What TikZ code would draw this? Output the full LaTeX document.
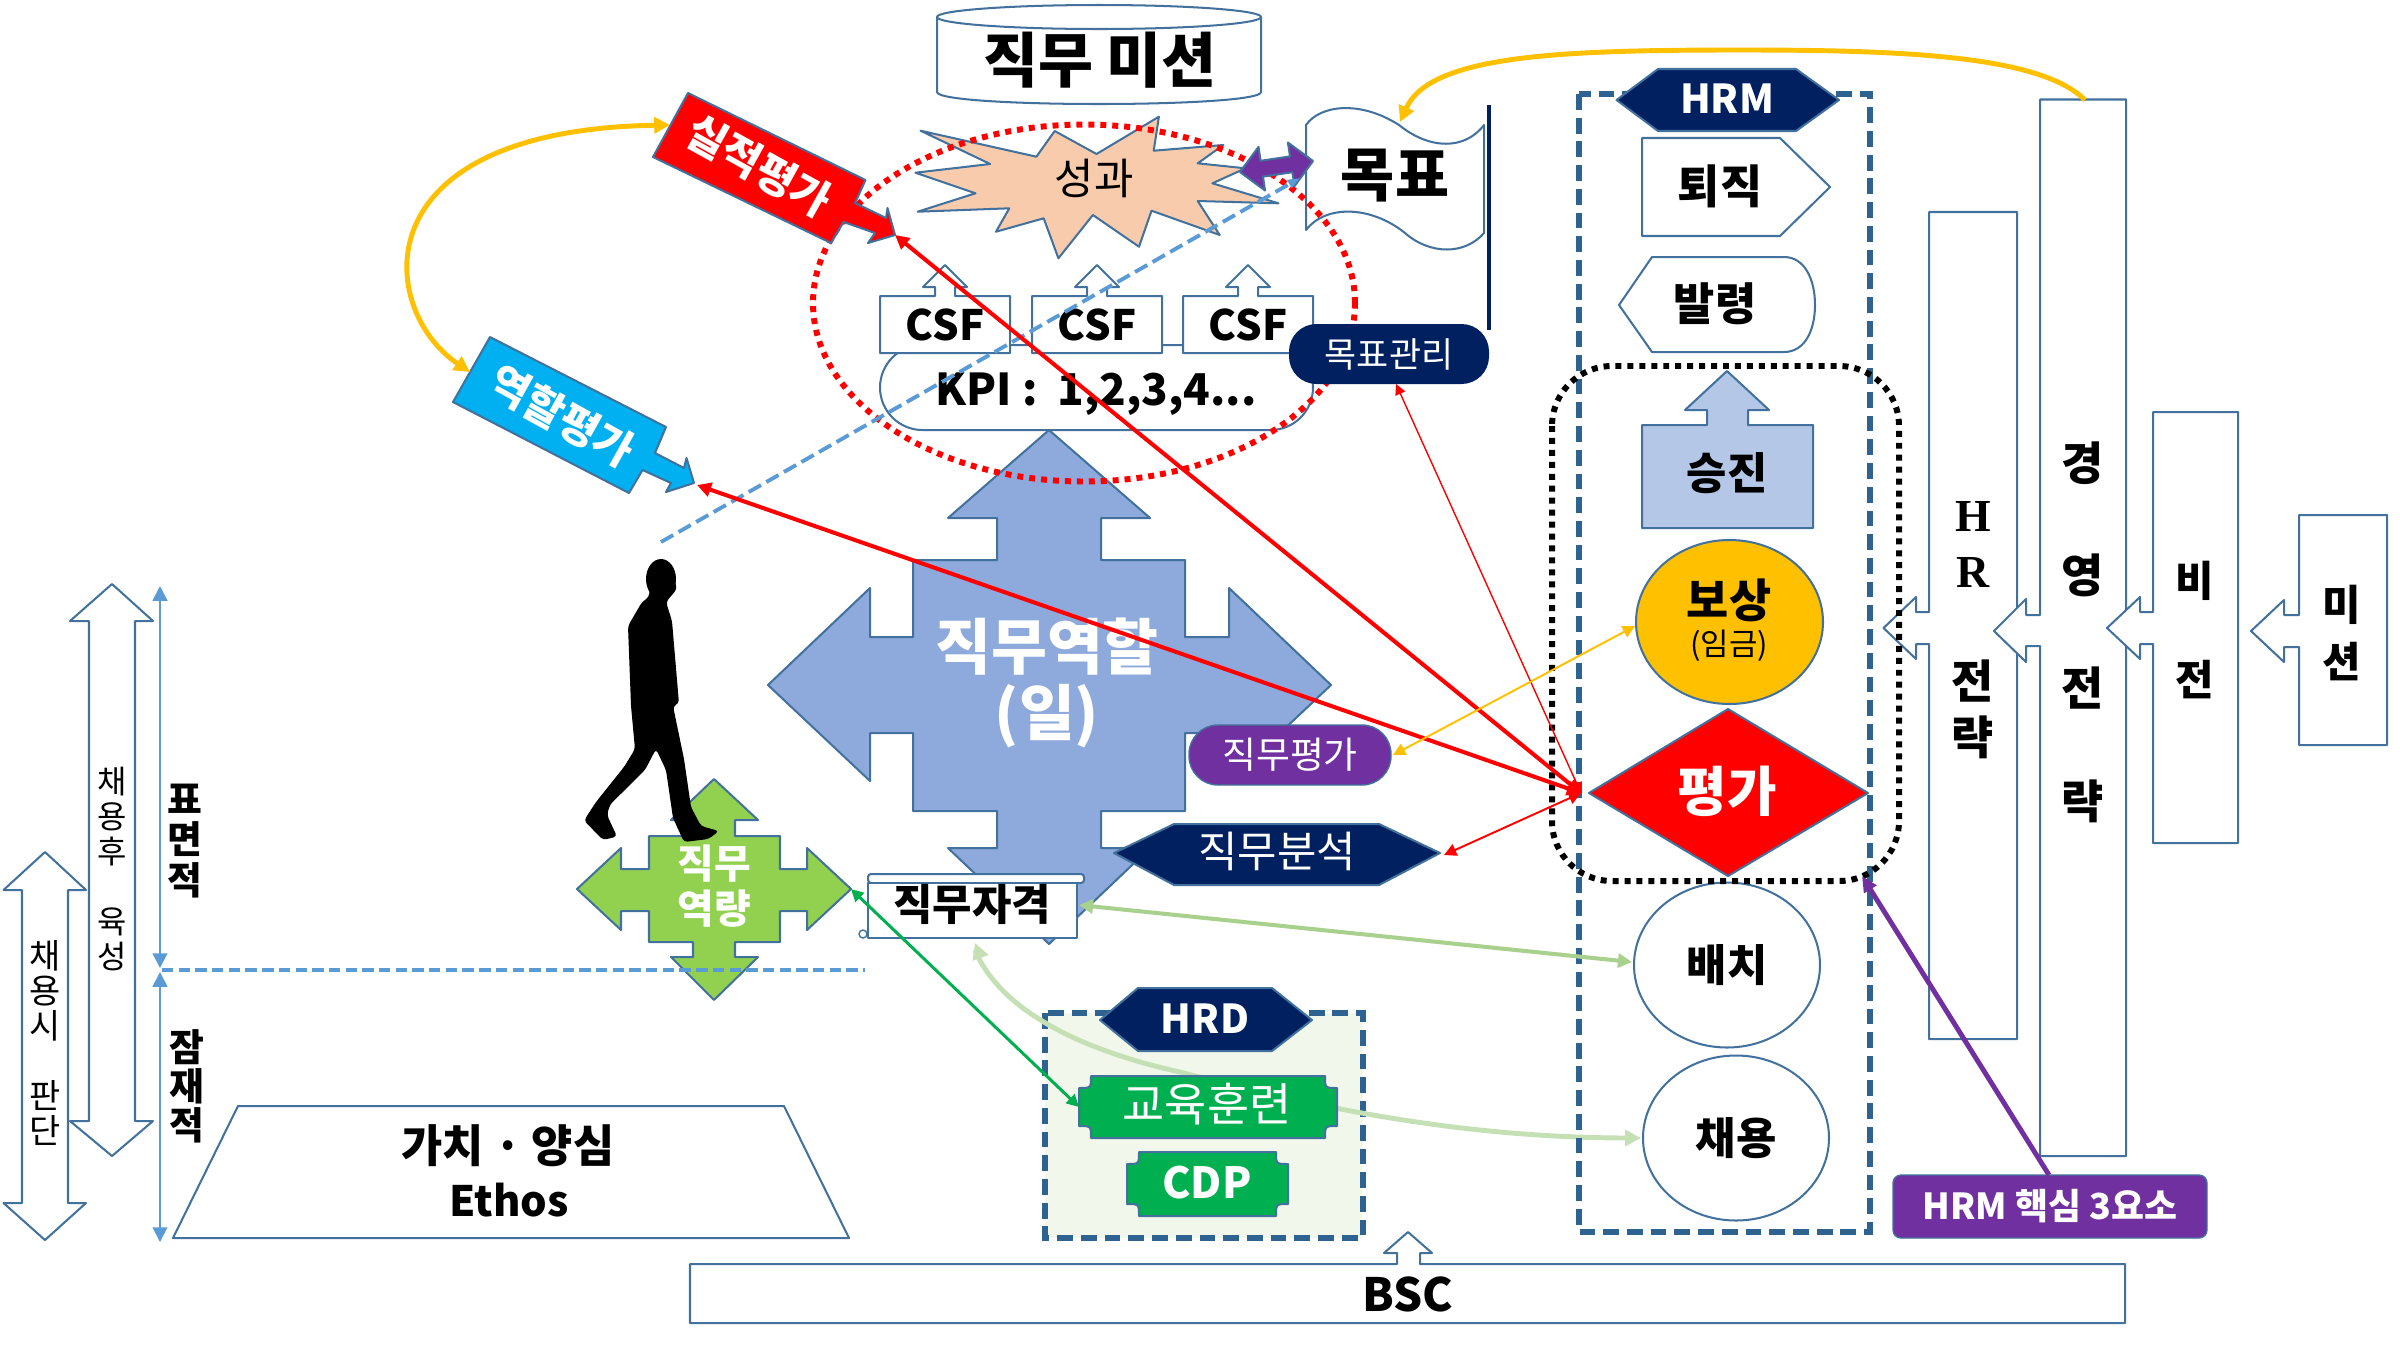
\documentclass[tikz,border=0pt]{standalone}
\usepackage{fontspec}
\setmainfont{Noto Sans CJK KR}
\newfontfamily\latinserif{Liberation Serif}
\usetikzlibrary{arrows.meta,shapes.geometric,shapes.misc}
\definecolor{edge}{HTML}{41719C}
\definecolor{navy}{HTML}{002060}
\definecolor{gold}{HTML}{FFC000}
\definecolor{violet}{HTML}{7030A0}
\definecolor{jobblue}{HTML}{8EA9DB}
\definecolor{leaf}{HTML}{92D050}
\definecolor{grn}{HTML}{00B050}
\definecolor{sky}{HTML}{00B0F0}
\definecolor{peach}{HTML}{F8CBAD}
\definecolor{pale}{HTML}{B4C7E7}
\definecolor{mint}{HTML}{F2F7EC}
\definecolor{dashblue}{HTML}{5B9BD5}
\definecolor{frame}{HTML}{2E6391}
\definecolor{lgreen}{HTML}{A9D18E}
\definecolor{lgreenb}{HTML}{C5E0B4}
\newcommand{\fz}[1]{\pgfmathsetmacro\fzsize{#1*0.567}\pgfmathsetmacro\fzskip{#1*0.567*1.18}\fontsize{\fzsize}{\fzskip}\selectfont}
\newcommand{\fzl}[2]{\pgfmathsetmacro\fzsize{#1*0.567}\pgfmathsetmacro\fzskip{#2*0.567}\fontsize{\fzsize}{\fzskip}\selectfont}
\tikzset{
  bd/.style={draw=edge,line width=1.15pt,line join=round},
  wbox/.style={bd,fill=white},
  txt/.style={inner sep=0pt,align=center,text=black},
  btxt/.style={txt,font=\fz{#1}\bfseries},
  wtxt/.style={txt,text=white,font=\fz{#1}\bfseries},
  wide/.style 2 args={minimum width=#1*0.02cm,minimum height=#2*0.02cm,inner sep=0pt},
  dhead/.style={{Triangle[length=#1,width=#1]}-{Triangle[length=#1,width=#1]}},
  dframe/.style={draw=frame,line width=3pt,dash pattern=on 9pt off 4.5pt},
}
\begin{document}
\begin{tikzpicture}[x=0.02cm,y=-0.02cm]
\useasboundingbox (0,0) rectangle (2400,1350);
\fill[white] (0,0) rectangle (2400,1350);

% big job cross
\draw[bd,fill=jobblue] (1049,430)--(1150,518)--(1101,518)--(1101,560)--(1185,560)--(1185,637)--(1229,637)--(1229,588)--(1331,685)--(1229,781)--(1229,733)--(1185,733)--(1185,811)--(1101,811)--(1101,848)--(1150,848)--(1049,944)--(948,848)--(997,848)--(997,811)--(913,811)--(913,733)--(870,733)--(870,781)--(768,685)--(870,588)--(870,637)--(913,637)--(913,560)--(997,560)--(997,518)--(948,518)--cycle;
\node[txt,text=white,font=\fzl{61}{66}\bfseries] (jobrole) at (1047,683) {직무역할\\(일)};

% KPI
\node[wbox,rectangle,rounded corners=0.85cm,wide={433}{85}] (kpibox) at (1096.5,387.5) {};
% cylinder
\draw[wbox] (937,17) -- (937,92) .. controls (937,108) and (1261,108) .. (1261,92) -- (1261,17);
\draw[wbox] (1099,17) ellipse [x radius=162,y radius=12];
\node[btxt=60] (mission) at (1100,60) {직무 미션};
% star
\draw[bd,fill=peach] (920.5,130.7)--(1036.4,156.7)--(1054.7,131)--(1096.5,154)--(1158.9,116.7)--(1153.7,150.7)--(1223.4,145)--(1197.7,163.3)--(1245.4,168.3)--(1212.4,183.3)--(1278.4,203.3)--(1197.7,201)--(1219.7,235)--(1151.5,210.7)--(1139,246.7)--(1092.9,215)--(1058.4,258.3)--(1043.7,218.3)--(996,231.7)--(1009.3,208.3)--(917.6,211.7)--(975.5,193.3)--(915.4,172.7)--(990.2,164)--cycle;
\node[txt,font=\fz{43}] (perf) at (1094,178) {성과};
% CSF
\foreach \cx/\nm in {945/csfa,1097/csfb,1248/csfc}{
  \draw[wbox] ({\cx-65},353) -- ({\cx-65},296) -- ({\cx-10},296) -- ({\cx-10},287) -- ({\cx-22},287) -- (\cx,265) -- ({\cx+22},287) -- ({\cx+10},287) -- ({\cx+10},296) -- ({\cx+65},296) -- ({\cx+65},353) -- cycle;
  \node[btxt=42] (\nm) at (\cx,325) {CSF};
}
\node[btxt=44] (kpi) at (1096,394) {KPI :~ 1,2,3,4...};
% flag
\draw[navy,line width=2.4pt] (1489,105) -- (1489,330);
\draw[wbox] (1306,125) .. controls (1320,105) and (1360,100) .. (1399,125) .. controls (1430,150) and (1465,150) .. (1484,125) -- (1484,233) .. controls (1465,255) and (1430,255) .. (1405,233) .. controls (1370,205) and (1325,205) .. (1306,230) -- cycle;
\node[btxt=59] (goal) at (1395,176) {목표};
% ring
\node[shape=ellipse,draw=red,line width=3.4pt,dash pattern=on 3.4pt off 3.4pt,minimum width=542*0.02cm,minimum height=357*0.02cm,inner sep=0pt] (ring) at (1084,303) {};
% goal mgmt
\node[fill=navy,rectangle,rounded corners=0.55cm,wide={200}{60},text=white,font=\fz{35}] (goalmgmt) at (1389,354) {목표관리};
% purple double arrow
\draw[bd,fill=violet] (1240,172)--(1258.5,146.9)--(1260.6,160.8)--(1290,156.4)--(1287.9,142.5)--(1313,161)--(1294.5,186.1)--(1292.4,172.2)--(1263,176.6)--(1265,190.5)--cycle;

% evaluation callouts
\draw[bd,fill=red] (688,93)--(865.5,180)--(855,203)--(886,218)--(887.5,208)--(895,235)--(868,243)--(875,233)--(843.5,222)--(831,243)--(653,157)--cycle;
\node[txt,text=white,font=\fz{43}\bfseries,rotate=-29] (perfeval) at (759,166) {실적평가};
\draw[bd,fill=sky] (490,337)--(666,427)--(655,453)--(684,468)--(686.5,458)--(694,483)--(666,492)--(671,483)--(642.5,470)--(629,493)--(453,402)--cycle;
\node[txt,text=white,font=\fz{43}\bfseries,rotate=-29] (roleeval) at (562,416) {역할평가};

% left arrows
\draw[wbox] (112,584)--(153,621)--(135,621)--(135,1121)--(153,1121)--(112,1156)--(70,1121)--(89,1121)--(89,621)--(70,621)--cycle;
\node[txt,font=\fzl{32}{35}] (after) at (112,869) {채\\용\\후\\~\\육\\성};
\draw[wbox] (45,852)--(86,890)--(68,890)--(68,1203)--(86,1203)--(45,1240)--(3.5,1203)--(22,1203)--(22,890)--(3.5,890)--cycle;
\node[txt,font=\fzl{34}{35}] (hiring) at (45,1043) {채\\용\\시\\~\\판\\단};
\coordinate (vtop) at (160,586);
\coordinate (vmidu) at (160,968);
\coordinate (vmidl) at (160,972);
\coordinate (vbot) at (160,1242);
\draw[dashblue,line width=1.1pt,{Triangle[length=14pt*0.6,width=14pt*0.6]}-{Triangle[length=14pt*0.6,width=14pt*0.6]}] (vtop) -- (vmidu);
\draw[dashblue,line width=1.1pt,{Triangle[length=14pt*0.6,width=14pt*0.6]}-{Triangle[length=14pt*0.6,width=14pt*0.6]}] (vmidl) -- (vbot);
\node[txt,font=\fzl{38}{41}\bfseries] (surface) at (185,841) {표\\면\\적};
\node[txt,font=\fzl{38}{39}\bfseries] (latent) at (187,1086) {잠\\재\\적};

% green cross
\draw[bd,fill=leaf,shift={(0,-3)}] (714,782)--(758,823)--(735,823)--(735,839)--(780,839)--(780,872)--(807,872)--(807,851)--(851,892)--(807,933)--(807,914)--(780,914)--(780,945)--(735,945)--(735,960)--(758,960)--(714,1003)--(671,960)--(693,960)--(693,945)--(649,945)--(649,914)--(621,914)--(621,933)--(577,892)--(621,851)--(621,872)--(649,872)--(649,839)--(693,839)--(693,823)--(671,823)--cycle;
\node[txt,text=white,font=\fzl{40}{45}\bfseries] (compet) at (714,886) {직무\\역량};
% horizontal dashed
\coordinate (dashl) at (162,970);
\coordinate (dashr) at (865,970);
\draw[dashblue,line width=2.2pt,dash pattern=on 6.5pt off 3pt] (dashl) -- (dashr);
% person
\fill[black,rounded corners=0.07cm] (651,575)--(672,572)--(677,589)--(666,602)--(672,621)--(679,703.5)--(673,706)--(684,759)--(691,807)--(701,826)--(719,831)--(708.5,839)--(684,842)--(673,818)--(666,770)--(656,749)--(645,770)--(610,804.6)--(607,815)--(617,836.5)--(603,840)--(584,820.5)--(596,802)--(624,767)--(635,749)--(631,706)--(628,626)--(642,602)--(649,597)--cycle;
\fill[black] (661,579) ellipse [x radius=15,y radius=20];

% ethos
\draw[bd,fill=white] (238,1106)--(784,1106)--(849,1238)--(173,1238)--cycle;
\node[btxt=45] (values) at (508,1146) {가치 · 양심};
\node[btxt=42] (ethos) at (509,1200) {Ethos};

% job qualification
\draw[wbox,rounded corners=0.06cm] (868,874) rectangle (1084,883);
\draw[wbox] (868,883) -- (1077,883) -- (1077,938) -- (868,938) -- cycle;
\fill[white,draw=edge,line width=0.8pt] (863,934) circle (4);
\node[btxt=43] (jobqual) at (972,904) {직무자격};
% job pills
\node[fill=violet,draw=edge,line width=0.8pt,rectangle,rounded corners=0.58cm,wide={202}{60},text=white,font=\fz{37}] (jobeval) at (1290,755) {직무평가};
\draw[bd,fill=navy] (1114,853)--(1174,824)--(1379,824)--(1440,853)--(1379,885)--(1174,885)--cycle;
\node[txt,text=white,font=\fz{43}] (jobanal) at (1277,851) {직무분석};

% HRD
\draw[dframe,fill=mint] (1045,1013) rectangle (1363,1238);
\draw[lgreenb,line width=2.8pt] (975,950) .. controls (1000,1010) and (1080,1050) .. (1180,1072) .. controls (1300,1103) and (1450,1138) .. (1630,1138);
\draw[bd,fill=navy] (1100,1020)--(1138,988)--(1272,988)--(1312,1020)--(1272,1051)--(1138,1051)--cycle;
\node[wtxt=40] (hrd) at (1205,1019) {HRD};
\draw[bd,fill=grn] (1091,1076) -- (1325,1076) .. controls (1325,1088) .. (1337,1088) -- (1337,1126) .. controls (1325,1126) .. (1325,1138) -- (1091,1138) .. controls (1091,1126) .. (1079,1126) -- (1079,1088) .. controls (1091,1088) .. (1091,1076) -- cycle;
\node[txt,text=white,font=\fz{46}] (edu) at (1207,1104) {교육훈련};
\draw[bd,fill=grn] (1139,1152) -- (1276,1152) .. controls (1276,1164) .. (1288,1164) -- (1288,1204) .. controls (1276,1204) .. (1276,1216) -- (1139,1216) .. controls (1139,1204) .. (1127,1204) -- (1127,1164) .. controls (1139,1164) .. (1139,1152) -- cycle;
\node[wtxt=43] (cdp) at (1207,1183) {CDP};

% strategy columns
\draw[wbox,shift={(0,-2)}] (1929,214)--(2017,214)--(2017,1041)--(1929,1041)--(1929,646)--(1916,646)--(1916,661)--(1883.5,630)--(1916,599)--(1916,614)--(1929,614)--cycle;
\node[txt,font=\fzl{46}{56}\bfseries] (hrs) at (1973,630) {{\latinserif H}\\{\latinserif R}\\~\\전\\략};
\draw[wbox] (2040,99.5)--(2126,99.5)--(2126,1156)--(2040,1156)--(2040,646)--(2026,646)--(2026,662)--(1994,631)--(2026,599)--(2026,615)--(2040,615)--cycle;
\node[txt,font=\fzl{46}{113}\bfseries] (mgmt) at (2083,632) {경\\영\\전\\략};
\draw[wbox,shift={(0,-2)}] (2153,414)--(2238,414)--(2238,845)--(2153,845)--(2153,646)--(2140,646)--(2140,661)--(2107,630)--(2140,599)--(2140,614)--(2153,614)--cycle;
\node[txt,font=\fzl{42}{99}\bfseries] (vision) at (2195,630) {비\\전};
\draw[wbox,shift={(0,-2)}] (2299,517)--(2387,517)--(2387,747)--(2299,747)--(2299,649)--(2284,649)--(2284,664)--(2251,633)--(2284,602)--(2284,617)--(2299,617)--cycle;
\node[txt,font=\fzl{42}{57}\bfseries] (misn) at (2342,633) {미\\션};

% HRM
\draw[dframe] (1579,94) rectangle (1870,1232);
\draw[bd,fill=navy] (1616.5,100)--(1658,69)--(1796,69)--(1839,100)--(1796,131)--(1658,131)--cycle;
\node[wtxt=40] (hrm) at (1727,99) {HRM};
\draw[wbox] (1642,138)--(1780,138)--(1830,187)--(1780,236)--(1642,236)--cycle;
\node[btxt=46] (retire) at (1720,186) {퇴직};
\draw[wbox] (1619,305)--(1652,257)--(1784,257) .. controls (1805,257) and (1815,280) .. (1815,305) .. controls (1815,330) and (1805,352) .. (1784,352) -- (1652,352)--cycle;
\node[btxt=45] (assign) at (1715,304) {발령};
\draw[bd,fill=pale] (1642,528)--(1642,425)--(1707,425)--(1707,410)--(1685,410)--(1727,371)--(1769,410)--(1748,410)--(1748,425)--(1813,425)--(1813,528)--cycle;
\node[btxt=44] (promo) at (1727,473) {승진};
\node[shape=ellipse,bd,fill=gold,minimum width=187*0.02cm,minimum height=164*0.02cm,inner sep=0pt] (reward) at (1729.5,622) {};
\node[btxt=46] (rewardt) at (1729,600) {보상};
\node[txt,font=\fz{31}] (wage) at (1729,646) {(임금)};
\node[shape=ellipse,wbox,minimum width=186*0.02cm,minimum height=165*0.02cm,inner sep=0pt,font=\fz{44}\bfseries] (place) at (1727,965) {배치};
\node[shape=ellipse,wbox,minimum width=186*0.02cm,minimum height=165*0.02cm,inner sep=0pt,font=\fz{44}\bfseries] (hire) at (1736,1138) {채용};
\draw[black,line width=3.4pt,dash pattern=on 3.4pt off 3.4pt,rounded corners=1.2cm] (1552,366) rectangle (1899,881);
\draw[bd,fill=red] (1589,793)--(1728,709)--(1868,793)--(1728,876)--cycle;
\node[wtxt=54] (evalt) at (1727,791) {평가};
\node[fill=violet,draw=edge,line width=0.8pt,rectangle,rounded corners=0.16cm,wide={314}{63},text=white,font=\fz{36}\bfseries] (core) at (2050,1206.5) {HRM 핵심 3요소};

% BSC
\draw[wbox] (690,1264)--(1397,1264)--(1397,1253)--(1384,1253)--(1408,1232)--(1432,1253)--(1420,1253)--(1420,1264)--(2125,1264)--(2125,1323)--(690,1323)--cycle;
\node[btxt=46] (bsc) at (1408,1294) {BSC};

% connector anchors
\coordinate (evalhub) at (1581,793);
\coordinate (perfend) at (895,235);
\coordinate (roleend) at (697,485);
\coordinate (mgmtend) at (1396,384);
\coordinate (analend) at (1444,855);
\coordinate (jeend) at (1393,755);
\coordinate (rwend) at (1635,626);
\coordinate (qualr) at (1079,905);
\coordinate (placel) at (1632,962);
\coordinate (hirel) at (1641,1138);
\coordinate (curvel) at (975,943);
\coordinate (compr) at (851,889);
\coordinate (edul) at (1079,1107);
\coordinate (coretop) at (2049,1175);
\coordinate (dotbr) at (1862,876);
\coordinate (bluea) at (661,542);
\coordinate (blueb) at (1300,178);
\coordinate (rolecurve) at (470,372);
\coordinate (perfcurve) at (670,125);
\coordinate (mgmttop) at (2085,100);
\coordinate (flagtop) at (1400,122);

% connectors
\draw[dashblue,line width=2.2pt,dash pattern=on 8pt off 3.5pt,-{Triangle[length=7pt,width=5pt]}] (bluea) -- (blueb);
\draw[gold,line width=2.8pt,{Triangle[length=9pt,width=9pt]}-{Triangle[length=9pt,width=9pt]}] (rolecurve) .. controls (378,310) and (358,130) .. (perfcurve);
\draw[gold,line width=2.8pt,-{Triangle[length=9pt,width=9pt]}] (mgmttop) .. controls (2040,55) and (1900,50) .. (1740,50) .. controls (1560,50) and (1430,55) .. (flagtop);
\draw[red,line width=2.3pt,dhead=8pt] (evalhub) -- (perfend);
\draw[red,line width=2.3pt,dhead=8pt] (evalhub) -- (roleend);
\draw[red,line width=0.8pt,dhead=6pt] (evalhub) -- (mgmtend);
\draw[red,line width=1.1pt,dhead=7pt] (evalhub) -- (analend);
\draw[gold,line width=1.1pt,dhead=7pt] (jeend) -- (rwend);
\draw[lgreen,line width=2.3pt,dhead=8pt] (qualr) -- (placel);
\draw[lgreenb,line width=2.8pt,{Triangle[length=9pt,width=9pt]}-] (curvel) -- ++(3,8);
\draw[lgreenb,line width=2.8pt,-{Triangle[length=9pt,width=9pt]}] (1630,1138) -- (hirel);
\draw[grn,line width=1.7pt,dhead=7pt] (compr) -- (edul);
\draw[violet,line width=2.8pt,-{Triangle[length=9pt,width=8pt]}] (coretop) -- (dotbr);
\end{tikzpicture}
\end{document}
